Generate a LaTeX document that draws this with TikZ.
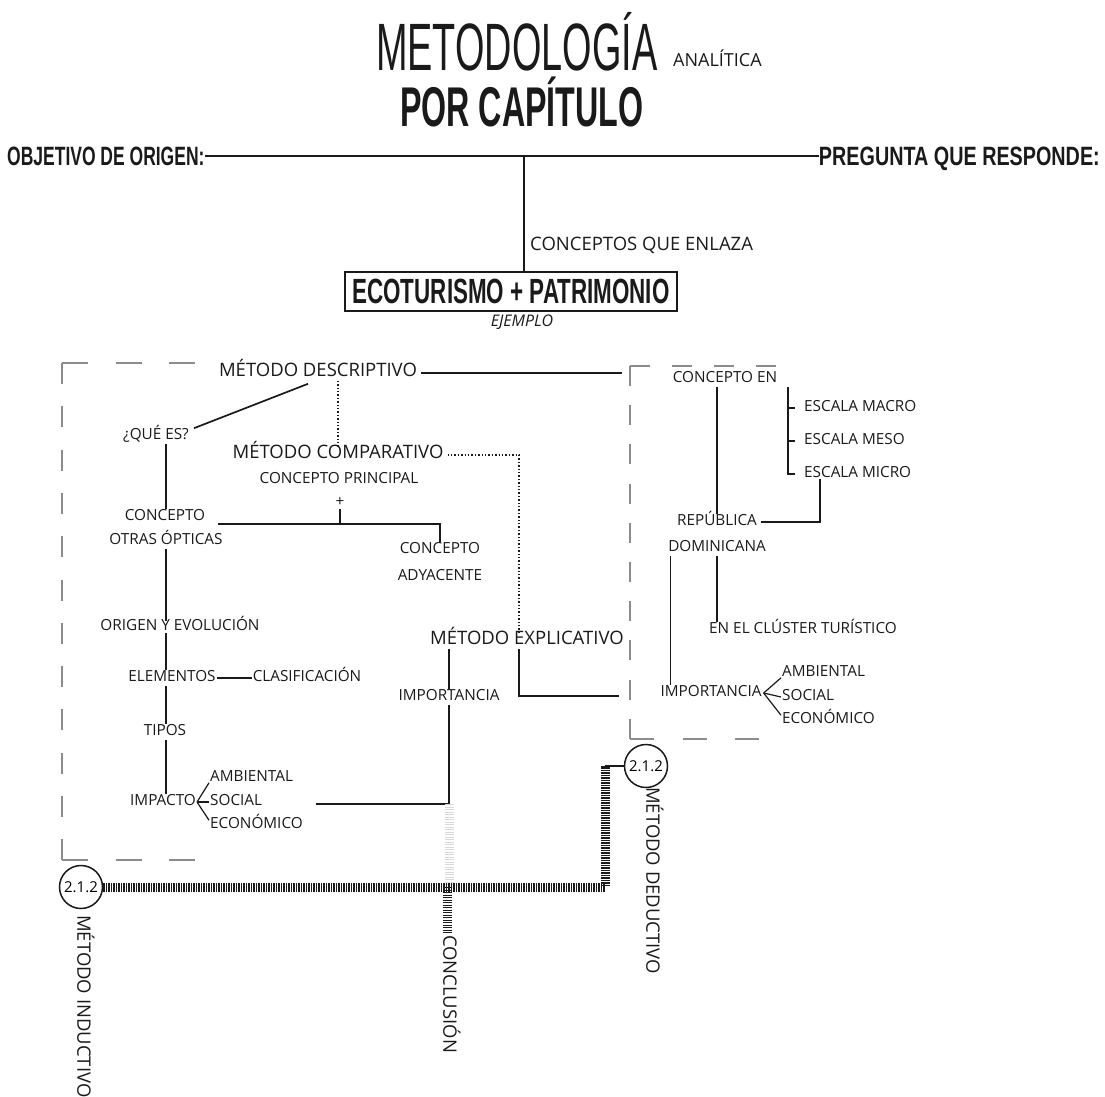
\documentclass[tikz,border=0pt]{standalone}
\usepackage{fontspec}
\setmainfont{Open Sans}
\newfontfamily\titlethin[FakeStretch=0.565]{Liberation Sans}
\newfontfamily\titlebold[FakeStretch=0.575]{Liberation Sans}
\newfontfamily\headbolda[FakeStretch=0.66]{Liberation Sans}
\newfontfamily\headboldb[FakeStretch=0.746]{Liberation Sans}
\newfontfamily\ecofont[FakeStretch=0.64]{Liberation Sans}
\newcommand\fsz[1]{\fontsize{#1}{#1}\selectfont}
\definecolor{ink}{HTML}{1A1A1A}
\definecolor{framegray}{HTML}{8C8C8C}
\begin{document}
\begin{tikzpicture}[x=1pt,y=-1pt,
  lbl/.style={font=\fsz{15.3}, text=ink, inner sep=4pt, text height=0.72em, text depth=0pt},
  big/.style={font=\fsz{18.5}, text=ink, inner sep=4pt, text height=0.72em, text depth=0pt},
  conn/.style={draw=ink, line width=1.7pt},
  fanline/.style={draw=ink, line width=1.2pt},
  dots/.style={draw=ink, line width=1.4pt, dotted},
  hatch/.style={draw=ink, line width=9pt, dash pattern=on 1.3pt off 1.2pt},
  frame/.style={draw=framegray, line width=2.2pt},
  num/.style={draw=ink, line width=1.5pt, circle, minimum size=43pt, inner sep=0pt, font=\fsz{15}, fill=white}
]
\useasboundingbox (0,0) rectangle (1105,1096);

% ---- titles ----
\node[anchor=base west, font=\titlethin\fsz{67}, text=ink, inner sep=0] (title) at (376,70) {METODOLOGÍA};
\node[anchor=base west, font=\fsz{18}, text=ink, inner sep=0] (anal) at (673,66) {ANALÍTICA};
\node[anchor=base west, font=\titlebold\bfseries\fsz{56}, text=ink, inner sep=0] (cap) at (400,126) {POR CAPÍTULO};
\node[anchor=base west, font=\headbolda\bfseries\fsz{26.5}, text=ink, inner sep=0] (obj) at (7,165) {OBJETIVO DE ORIGEN:};
\node[anchor=base east, font=\headboldb\bfseries\fsz{26.5}, text=ink, inner sep=0] (preg) at (1100,165) {PREGUNTA QUE RESPONDE:};
\node[draw=ink, line width=1.5pt, minimum width=332pt, minimum height=39pt, inner sep=0, text=ink, font=\ecofont\bfseries\fsz{35}] (eco) at (511,291.5) {ECOTURISMO + PATRIMONIO};
\node[anchor=west, font=\fsz{18.5}, text=ink, inner sep=0] (enl) at (530,245) {CONCEPTOS QUE ENLAZA};
\node[font=\itshape\fsz{16}, text=ink, inner sep=0] (ej) at (522,322) {EJEMPLO};

\coordinate (tjx) at (524,0);
\draw[conn] (obj.east) -- (obj.east -| preg.west);
\draw[conn] (obj.east -| tjx) -- (tjx |- eco.north);

% ---- frames ----
\draw[frame, dash pattern=on 26pt off 27.5pt] (62,363) -- (195,363);
\draw[frame, dash pattern=on 21pt off 22.3pt] (62,363) -- (62,860);
\draw[frame, dash pattern=on 26pt off 27.5pt] (62,860) -- (195,860);
\draw[frame, dash pattern=on 20pt off 22pt] (630,366) -- (780,366);
\draw[frame, dash pattern=on 20pt off 19.2pt] (630,366) -- (630,739);
\draw[frame, dash pattern=on 24pt off 28.5pt] (630,739) -- (770,739);

% ---- left nodes ----
\node[big] (desc) at (318,373) {MÉTODO DESCRIPTIVO};
\node[big] (comp) at (338,455) {MÉTODO COMPARATIVO};
\node[big] (expl) at (527,641) {MÉTODO EXPLICATIVO};
\node[lbl] (que) at (156,436) {¿QUÉ ES?};
\node[lbl] (princ) at (339,480) {CONCEPTO PRINCIPAL};
\node[lbl, inner sep=2pt] (plus) at (340,503) {+};
\node[lbl] (concepto) at (165,517) {CONCEPTO};
\node[lbl] (otras) at (166,541) {OTRAS ÓPTICAS};
\node[lbl] (ady1) at (440,550) {CONCEPTO};
\node[lbl] (ady2) at (440,577) {ADYACENTE};
\node[lbl, inner xsep=1pt] (elem) at (172,678) {ELEMENTOS};
\node[lbl, inner xsep=1pt] (clasif) at (307,678) {CLASIFICACIÓN};
\node[lbl] (tipos) at (165,732) {TIPOS};
\node[lbl, inner xsep=1pt] (impacto) at (163,802) {IMPACTO};
\node[lbl, anchor=west, inner sep=1pt] (amb1) at (209,778) {AMBIENTAL};
\node[lbl, anchor=west, inner sep=1pt] (soc1) at (209,802) {SOCIAL};
\node[lbl, anchor=west, inner sep=1pt] (eco1) at (209,825) {ECONÓMICO};
\node[lbl] (imp1) at (449,697) {IMPORTANCIA};

% ---- right nodes ----
\node[lbl] (cen) at (725,379) {CONCEPTO EN};
\node[lbl, anchor=west, inner xsep=9pt, inner ysep=1pt] (mac) at (795,408) {ESCALA MACRO};
\node[lbl, anchor=west, inner xsep=9pt, inner ysep=1pt] (mes) at (795,441) {ESCALA MESO};
\node[lbl, anchor=west, inner xsep=9pt, inner ysep=1pt] (mic) at (795,474) {ESCALA MICRO};
\node[lbl] (rep) at (717,522) {REPÚBLICA};
\node[lbl] (dom) at (717,548) {DOMINICANA};
\node[lbl] (clus) at (803,630) {EN EL CLÚSTER TURÍSTICO};
\node[lbl, inner xsep=2pt] (imp2) at (711,693) {IMPORTANCIA};
\node[lbl, anchor=west, inner sep=1pt] (amb2) at (781,673) {AMBIENTAL};
\node[lbl, anchor=west, inner sep=1pt] (soc2) at (781,697) {SOCIAL};
\node[lbl, anchor=west, inner sep=1pt] (eco2) at (781,720) {ECONÓMICO};

% ---- bottom nodes ----
\node[num] (ci) at (81,887) {2.1.2};
\node[num] (cd) at (646,766) {2.1.2};
\node[big, rotate=-90, anchor=west, inner sep=1pt] (ind) at (81,914) {MÉTODO INDUCTIVO};
\node[big, rotate=-90, anchor=west, inner sep=1pt] (ded) at (650,786) {MÉTODO DEDUCTIVO};
\node[big, rotate=-90, anchor=west, inner sep=1pt] (concl) at (447,934) {CONCLUSIÓN};

% ---- coordinates ----
\coordinate (dr) at (622,373);
\coordinate (ed) at (519,0);
\coordinate (ex2) at (619,696);
\coordinate (lx) at (166,0);
\coordinate (hj) at (218,524);
\coordinate (f1) at (316,804);
\coordinate (bt) at (788,387);
\coordinate (hr) at (605,887);
\coordinate (cj) at (447,887);

% ---- left connectors ----
\draw[conn] (desc.east) -- (desc.east -| dr);
\draw[conn] ([xshift=-10pt,yshift=-3pt]desc.south) -- ([xshift=1pt]que.north east);
\draw[dots] (desc.south -| comp.north) -- (comp.north);
\draw[dots] (comp.east) -| (ed |- expl.north);
\draw[conn] (ed |- expl.south) |- (ex2);
\draw[conn] (lx |- que.south) -- (lx |- concepto.north);
\draw[conn] (hj) -| (ady1.north);
\draw[conn] (plus.south) -- (plus.south |- hj);
\draw[conn] (lx |- otras.south) -- (lx |- elem.north);
\draw[conn] (elem.east) -- (clasif.west);
\draw[conn] (lx |- elem.south) -- (lx |- tipos.north);
\draw[conn] (lx |- tipos.south) -- (lx |- impacto.north);
\draw[fanline] (impacto.east) -- (amb1.south west);
\draw[fanline] (impacto.east) -- (soc1.west);
\draw[fanline] (impacto.east) -- (eco1.north west);
\draw[conn] (f1) -| (imp1.south);
\draw[conn] (imp1.north) -- (imp1.north |- expl.south);
\node[lbl, fill=white, inner sep=2pt] (origen) at (180,627) {ORIGEN Y EVOLUCIÓN};

% ---- right connectors ----
\draw[conn] (rep.north |- cen.south) -- (rep.north);
\draw[conn] (bt) |- (mic.west);
\draw[conn] (bt |- mac.west) -- (mac.west);
\draw[conn] (bt |- mes.west) -- (mes.west);
\draw[conn] ([xshift=25pt]mic.south west) |- (rep.east);
\draw[conn] (dom.south) -- (dom.south |- clus.north);
\draw[conn] ([xshift=12pt]imp2.north west) -- ([xshift=12pt]imp2.north west |- dom.south);
\draw[fanline] (imp2.east) -- (amb2.south west);
\draw[fanline] (imp2.east) -- (soc2.west);
\draw[fanline] (imp2.east) -- (eco2.north west);

% ---- hatched connectors ----
\draw[hatch, draw=gray!30] (imp1.south |- f1) -- (imp1.south |- cj);
\draw[hatch] (ci.east) -- (hr) -- (hr |- cd.west);
\draw[conn] (hr |- cd.west) -- (cd.west);
\draw[hatch] (cj) -- (concl.west);
\end{tikzpicture}
\end{document}
